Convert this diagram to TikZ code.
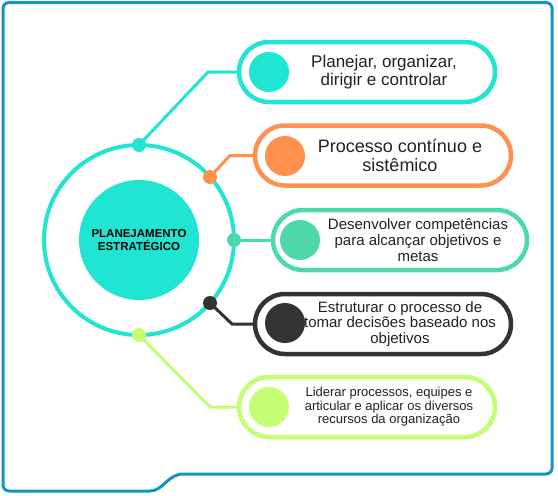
\documentclass[tikz,border=0pt]{standalone}
\usepackage{fontspec}
\setmainfont{Liberation Sans}
\usetikzlibrary{backgrounds}
\definecolor{teal1}{RGB}{31,229,210}
\definecolor{orng}{RGB}{255,145,77}
\definecolor{grn}{RGB}{77,216,172}
\definecolor{drk}{RGB}{51,51,51}
\definecolor{lime}{RGB}{196,255,114}
\definecolor{frm}{RGB}{20,148,192}
\definecolor{txt}{RGB}{34,34,34}
\begin{document}
\begin{tikzpicture}[x=1pt,y=-1pt,
  pill/.style={draw=#1, line width=4.5pt, rounded corners=30pt, minimum width=256pt, minimum height=60pt, inner sep=0pt, fill=white},
  bullet/.style={circle, fill=#1, minimum size=40pt, inner sep=0pt},
  dotnode/.style={circle, fill=#1, minimum size=14pt, inner sep=0pt},
  conn/.style={draw=#1, line width=3pt},
  label/.style={align=center, text=txt, inner sep=0pt}]
\useasboundingbox (0,0) rectangle (558,496);
% frame
\draw[frm, line width=3pt] (150,491) .. controls (163,491) and (168,474) .. (183,474)
  [rounded corners=6pt] -- (552,474) -- (552,2.5) -- (3,2.5) -- (3,491) -- (150,491);
% ring and core
\node[circle, draw=teal1, line width=4pt, minimum size=190pt, inner sep=0pt] (ring) at (139,240) {};
\node[circle, fill=teal1, minimum size=120pt, inner sep=0pt, align=center, text=black,
  font=\fontsize{11.5}{13}\selectfont\bfseries] (core) at (139,240) {PLANEJAMENTO\\ESTRATÉGICO};
% dots
\node[dotnode=teal1] (d1) at (139,145) {};
\node[dotnode=orng] (d2) at (210,177) {};
\node[dotnode=grn] (d3) at (234,240) {};
\node[dotnode=drk] (d4) at (210,303) {};
\node[dotnode=lime] (d5) at (139,335) {};
% pills
\node[pill=teal1] (p1) at (367,72) {};
\node[pill=orng] (p2) at (383,155.5) {};
\node[pill=grn, minimum width=254pt] (p3) at (400,240) {};
\node[pill=drk] (p4) at (383,324) {};
\node[pill=lime] (p5) at (367,407) {};
% bullets
\node[bullet=teal1] (b1) at (269,72) {};
\node[bullet=orng] (b2) at (285,156) {};
\node[bullet=grn] (b3) at (300,240) {};
\node[bullet=drk] (b4) at (285,323) {};
\node[bullet=lime] (b5) at (269,407) {};
% texts
\node[label, font=\fontsize{17}{18}\selectfont] (t1) at (384,72) {Planejar, organizar,\\dirigir e controlar};
\node[label, font=\fontsize{18}{18.5}\selectfont] (t2) at (400,155.5) {Processo contínuo e\\sistêmico};
\node[label, font=\fontsize{15}{16}\selectfont] (t3) at (418,240) {Desenvolver competências\\para alcançar objetivos e\\metas};
\node[label, font=\fontsize{15}{15.5}\selectfont] (t4) at (400,324) {Estruturar o processo de\\tomar decisões baseado nos\\objetivos};
\node[label, font=\fontsize{13}{13.5}\selectfont] (t5) at (389,407) {Liderar processos, equipes e\\articular e aplicar os diversos\\recursos da organização};
% connectors
\coordinate (k1) at (208,72);
\coordinate (k2) at (230,155.5);
\coordinate (k4) at (232,324);
\coordinate (k5) at (210,407);
\begin{scope}[on background layer]
\draw[conn=teal1] (d1.center) -- (k1) -- (p1.west);
\draw[conn=orng] (d2.center) -- (k2) -- (p2.west);
\draw[conn=grn] (d3.center) -- (p3.west);
\draw[conn=drk] (d4.center) -- (k4) -- (p4.west);
\draw[conn=lime] (d5.center) -- (k5) -- (p5.west);
\end{scope}
\end{tikzpicture}
\end{document}
